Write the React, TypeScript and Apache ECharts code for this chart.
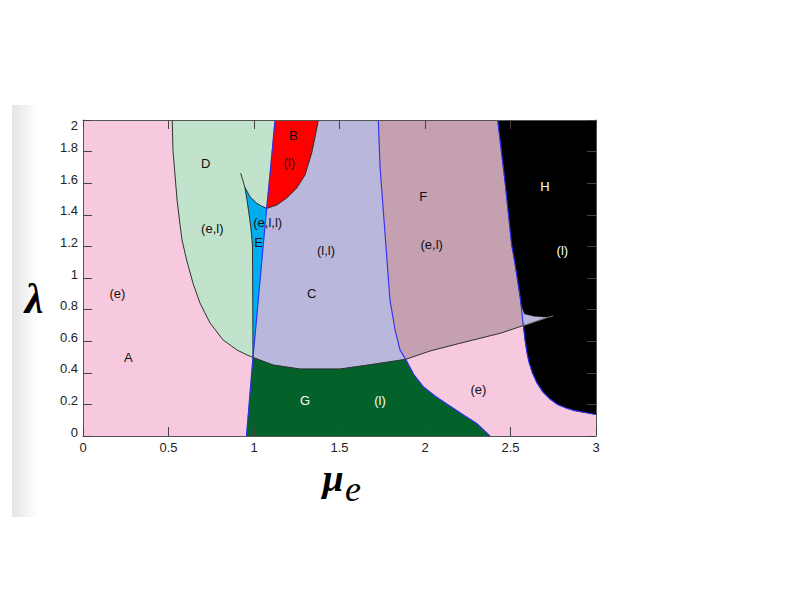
import React, { useEffect, useRef } from "react";
import * as echarts from "echarts";

// ---- axis ranges / ticks ----
const xMin = 0, xMax = 3, xStep = 0.5;
const yMin = 0, yMax = 2, yStep = 0.2;

// ---- phase boundaries (data coords: [mu_e, lambda]) ----
const dLeftCurve = [
  [0.522, 2.0], [0.526, 1.81], [0.538, 1.652], [0.55, 1.494], [0.564, 1.367],
  [0.579, 1.241], [0.606, 1.114], [0.643, 0.968], [0.684, 0.842], [0.743, 0.715],
  [0.819, 0.608], [0.901, 0.544], [0.959, 0.513], [0.994, 0.497],
];
const cLeftBlue = [
  [1.123, 2.0], [1.096, 1.684], [1.074, 1.441], [1.054, 1.209], [1.025, 0.861],
  [1.009, 0.671], [0.994, 0.497], [0.956, 0.0],
];
const eLeft = [
  [0.947, 1.573], [0.959, 1.494], [0.972, 1.399], [0.982, 1.316], [0.991, 1.209],
  [0.993, 0.861], [0.994, 0.497],
];
const tipCurve = [
  [0.922, 1.663], [0.936, 1.614], [0.947, 1.573], [0.977, 1.513], [1.016, 1.473],
  [1.047, 1.453], [1.074, 1.441],
];
const bCurve = [
  [1.074, 1.441], [1.133, 1.462], [1.191, 1.506], [1.25, 1.57], [1.298, 1.652],
  [1.337, 1.791], [1.357, 1.894], [1.376, 2.0],
];
const cBottom = [
  [0.994, 0.497], [1.113, 0.449], [1.269, 0.424], [1.503, 0.424], [1.698, 0.454],
  [1.887, 0.485],
];
const cfBlue = [
  [1.727, 2.0], [1.737, 1.704], [1.766, 1.285], [1.795, 0.861], [1.825, 0.671],
  [1.854, 0.544], [1.887, 0.485],
];
const gRight = [
  [1.887, 0.485], [1.936, 0.386], [1.99, 0.312], [2.058, 0.253], [2.127, 0.203],
  [2.216, 0.139], [2.302, 0.08], [2.38, 0.0],
];
const fBottom = [
  [1.887, 0.485], [2.029, 0.538], [2.205, 0.587], [2.439, 0.65], [2.575, 0.699],
];
const fBottomTail = [[2.575, 0.699], [2.713, 0.75], [2.75, 0.759]];
const fhBlue = [
  [2.425, 2.0], [2.468, 1.609], [2.507, 1.209], [2.526, 1.093], [2.556, 0.882],
  [2.564, 0.81], [2.575, 0.699],
];
const hBottom = [
  [2.575, 0.699], [2.585, 0.608], [2.596, 0.53], [2.608, 0.468], [2.628, 0.4],
  [2.655, 0.335], [2.69, 0.278], [2.731, 0.234], [2.775, 0.2], [2.825, 0.177],
  [2.87, 0.162], [2.918, 0.152], [3.0, 0.136],
];
const lavTri = [[2.562, 0.823], [2.58, 0.77], [2.64, 0.755], [2.713, 0.75], [2.575, 0.699]];
const topRight = [3.0, 2.0];

// ---- region labels ----
const labelText = ["A", "(e)", "D", "(e,l)", "(e,l,l)", "E", "B", "(l)", "(l,l)", "C", "F", "(e,l)", "H", "(l)", "G", "(l)", "(e)"];
const labelPos = [
  [0.265, 0.498], [0.201, 0.903], [0.718, 1.726], [0.756, 1.315], [1.08, 1.35],
  [1.027, 1.223], [1.23, 1.905], [1.206, 1.728], [1.421, 1.173], [1.337, 0.903],
  [1.99, 1.515], [2.039, 1.209], [2.702, 1.582], [2.803, 1.171], [1.298, 0.223],
  [1.737, 0.223], [2.312, 0.296],
];
const labelDark = [true, true, true, true, true, true, true, true, true, true, true, true, false, false, false, false, true];

const COLORS = {
  pink: "#F7C9DE",
  lightGreen: "#C1E2CB",
  lavender: "#B9B7DC",
  cyan: "#00AEEF",
  red: "#FF0000",
  darkGreen: "#03622A",
  mauve: "#C4A0B0",
  black: "#000000",
  blueLine: "#2E2EF5",
  darkLine: "#333333",
};

export default function App() {
  const ref = useRef<HTMLDivElement>(null);
  useEffect(() => {
    if (!ref.current) return;
    const chart = echarts.init(ref.current, null, { renderer: "svg" });

    const regions = [
      { color: COLORS.lightGreen, pts: [...dLeftCurve, ...cLeftBlue.slice(0, 6).reverse()] },
      { color: COLORS.lavender, pts: [cLeftBlue[0], ...cfBlue, ...cBottom.slice(0, -1).reverse(), ...cLeftBlue.slice(1, 6).reverse()] },
      { color: COLORS.cyan, pts: [...tipCurve.slice(2), ...cLeftBlue.slice(3, 7), ...eLeft.slice(1, 6).reverse()] },
      { color: COLORS.red, pts: [...bCurve, cLeftBlue[0], cLeftBlue[1]] },
      { color: COLORS.darkGreen, pts: [...cBottom, ...gRight.slice(1), cLeftBlue[7]] },
      { color: COLORS.mauve, pts: [...cfBlue, ...fBottom.slice(1), ...fhBlue.slice(0, -1).reverse()] },
      { color: COLORS.black, pts: [...fhBlue, ...hBottom.slice(1), topRight] },
      { color: COLORS.lavender, pts: lavTri },
    ];
    const lines = [
      { color: COLORS.darkLine, w: 1, pts: dLeftCurve },
      { color: COLORS.darkLine, w: 1, pts: tipCurve },
      { color: COLORS.darkLine, w: 1, pts: eLeft },
      { color: COLORS.darkLine, w: 1, pts: bCurve },
      { color: COLORS.darkLine, w: 1, pts: cBottom },
      { color: COLORS.darkLine, w: 1, pts: fBottom },
      { color: "#777777", w: 1, pts: fBottomTail },
      { color: COLORS.blueLine, w: 1.1, pts: cLeftBlue },
      { color: COLORS.blueLine, w: 1.1, pts: [...cfBlue, ...gRight.slice(1)] },
      { color: COLORS.blueLine, w: 1.1, pts: [...fhBlue, ...hBottom.slice(1)] },
    ];

    const axisLineStyle = { color: "#555", width: 1 };
    const tickStyle = { color: "#444", width: 1 };
    const labelFont = '"Liberation Sans", Arial, sans-serif';
    const titleFont = '"Liberation Serif", "DejaVu Serif", serif';

    const option: any = {
      animation: false,
      grid: {
        left: 83, top: 120, width: 513, height: 316,
        show: true, backgroundColor: COLORS.pink, borderWidth: 0,
      },
      xAxis: [
        {
          type: "value", min: xMin, max: xMax, interval: xStep, position: "bottom", z: 10,
          axisLine: { show: true, onZero: false, lineStyle: axisLineStyle },
          axisTick: { show: true, inside: true, length: 9, lineStyle: tickStyle },
          axisLabel: { color: "#222", fontSize: 13, fontFamily: labelFont, margin: 5 },
          splitLine: { show: false },
        },
        {
          type: "value", min: xMin, max: xMax, interval: xStep, position: "top", z: 10,
          axisLine: { show: true, onZero: false, lineStyle: axisLineStyle },
          axisTick: { show: true, inside: true, length: 9, lineStyle: tickStyle },
          axisLabel: { show: false },
          splitLine: { show: false },
        },
      ],
      yAxis: [
        {
          type: "value", min: yMin, max: yMax, interval: yStep, position: "left", z: 10,
          axisLine: { show: true, onZero: false, lineStyle: axisLineStyle },
          axisTick: { show: true, inside: true, length: 9, lineStyle: tickStyle },
          axisLabel: {
            color: "#222", fontSize: 13, fontFamily: labelFont, margin: 5,
            formatter: (v: number) => {
              const s = String(Math.round(v * 10) / 10);
              return v >= yMax - 1e-9 ? `{t|${s}}` : `{n|${s}}`;
            },
            rich: {
              n: { color: "#222", fontSize: 13, fontFamily: labelFont, padding: [0, 0, 8, 0] },
              t: { color: "#222", fontSize: 13, fontFamily: labelFont, padding: [10, 0, 0, 0] },
            },
          },
          splitLine: { show: false },
        },
        {
          type: "value", min: yMin, max: yMax, interval: yStep, position: "right", z: 10,
          axisLine: { show: true, onZero: false, lineStyle: axisLineStyle },
          axisTick: { show: true, inside: true, length: 9, lineStyle: tickStyle },
          axisLabel: { show: false },
          splitLine: { show: false },
        },
      ],
      graphic: [
        {
          type: "rect", x: 12, y: 105, z: -10, silent: true,
          shape: { width: 26, height: 412 },
          style: {
            fill: new echarts.graphic.LinearGradient(0, 0, 1, 0, [
              { offset: 0, color: "#e4e4e4" },
              { offset: 1, color: "#ffffff" },
            ]),
          },
        },
        {
          type: "text", x: 34, y: 299, z: 20,
          style: { text: "λ", font: `italic bold 42px ${titleFont}`, fill: "#000", align: "center", verticalAlign: "middle", textAlign: "center", textVerticalAlign: "middle" },
        },
        {
          type: "text", x: 333, y: 478, z: 20,
          style: { text: "μ", font: `italic bold 38px ${titleFont}`, fill: "#000", align: "center", verticalAlign: "middle", textAlign: "center", textVerticalAlign: "middle" },
        },
        {
          type: "text", x: 353, y: 489, z: 20,
          style: { text: "e", font: `italic 36px ${titleFont}`, fill: "#000", align: "center", verticalAlign: "middle", textAlign: "center", textVerticalAlign: "middle" },
        },
      ],
      series: [
        {
          type: "custom", coordinateSystem: "cartesian2d", clip: true, silent: true, z: 2,
          data: regions.map((r) => r.pts[0]),
          renderItem: (params: any, api: any) => {
            const r = regions[params.dataIndex];
            return {
              type: "polygon",
              shape: { points: r.pts.map((p) => api.coord(p)) },
              style: { fill: r.color, stroke: r.color, lineWidth: 0.5 },
            };
          },
        },
        {
          type: "custom", coordinateSystem: "cartesian2d", clip: true, silent: true, z: 3,
          data: lines.map((l) => l.pts[0]),
          renderItem: (params: any, api: any) => {
            const l = lines[params.dataIndex];
            return {
              type: "polyline",
              shape: { points: l.pts.map((p) => api.coord(p)) },
              style: { fill: "none", stroke: l.color, lineWidth: l.w },
            };
          },
        },
        {
          type: "custom", coordinateSystem: "cartesian2d", clip: false, silent: true, z: 4,
          data: labelPos,
          renderItem: (params: any, api: any) => {
            const i = params.dataIndex;
            const p = api.coord([api.value(0), api.value(1)]);
            return {
              type: "text", x: p[0], y: p[1],
              style: {
                text: labelText[i], fill: labelDark[i] ? "#111" : "#fff",
                font: '13px "Liberation Sans", Arial, sans-serif',
                align: "center", verticalAlign: "middle", textAlign: "center", textVerticalAlign: "middle",
              },
            };
          },
        },
      ],
    };
    chart.setOption(option);
    return () => chart.dispose();
  }, []);
  return (
    <div
      ref={ref}
      style={{ position: "absolute", left: 0, top: 0, width: 785, height: 606, background: "#fff" }}
    />
  );
}
